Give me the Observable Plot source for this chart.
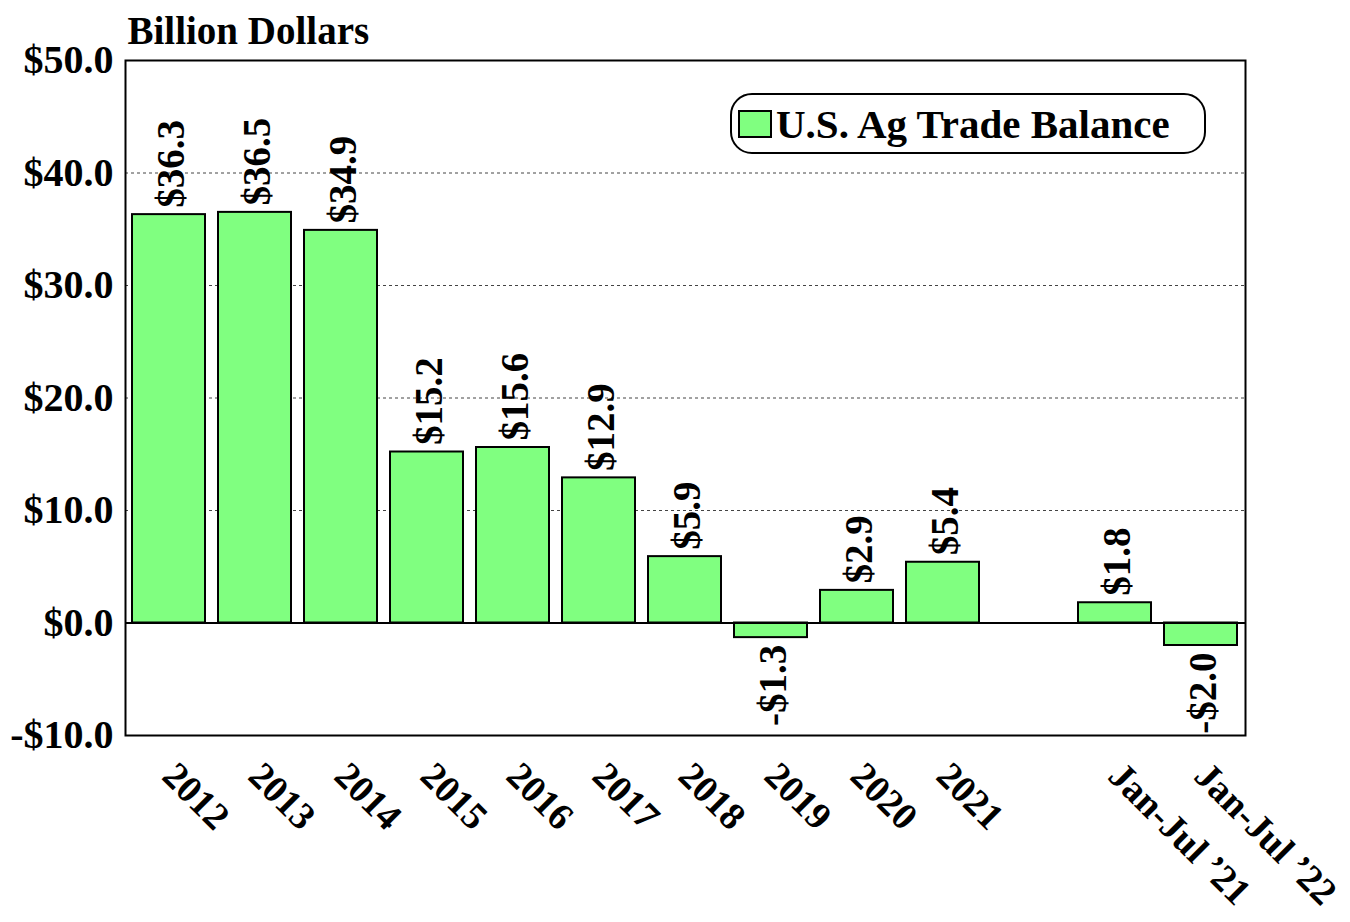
<!DOCTYPE html>
<html>
<head>
<meta charset="utf-8">
<script src="https://cdn.jsdelivr.net/npm/d3@7"></script>
<script src="https://cdn.jsdelivr.net/npm/@observablehq/plot@0.6"></script>
<style>
  html, body { margin: 0; padding: 0; background: #fff; }
  #wrap { position: relative; width: 1350px; height: 922px; font-family: "Liberation Serif", "Times New Roman", serif; }
  #legend {
    position: absolute; left: 730px; top: 93px; width: 472px; height: 57px;
    border: 2px solid #000; border-radius: 22px; background: #fff;
    display: flex; align-items: center; box-sizing: content-box;
    font-weight: bold; font-size: 41px; color: #000; white-space: nowrap;
  }
  #legend .sw { width: 30px; height: 24px; background: #80ff80; border: 2px solid #000; margin-left: 6px; margin-right: 4px; }
</style>
</head>
<body>
<div id="wrap"></div>
<script>
const categories = ["2012","2013","2014","2015","2016","2017","2018","2019","2020","2021"," ","Jan-Jul ’21","Jan-Jul ’22"];
const barCategories = ["2012","2013","2014","2015","2016","2017","2018","2019","2020","2021","Jan-Jul ’21","Jan-Jul ’22"];
const balance = [36.3, 36.5, 34.9, 15.2, 15.6, 12.9, 5.9, -1.3, 2.9, 5.4, 1.8, -2.0];
const yTicks = [-10, 0, 10, 20, 30, 40, 50];
const gridTicks = [10, 20, 30, 40];
const seriesName = "U.S. Ag Trade Balance";
const yTitle = "Billion Dollars";

const data = barCategories.map((c, i) => ({cat: c, value: balance[i]}));
const fmt = v => (v < 0 ? "-$" : "$") + Math.abs(v).toFixed(1);

const plot = Plot.plot({
  width: 1350,
  height: 922,
  marginLeft: 125,
  marginRight: 105,
  marginTop: 60,
  marginBottom: 187,
  style: {fontFamily: "'Liberation Serif', 'Times New Roman', serif", fontSize: "36px", fontWeight: "bold", color: "#000", background: "#fff"},
  x: {domain: categories, paddingInner: 0.15, paddingOuter: 0.08, label: null},
  y: {domain: [-10, 50], label: null},
  marks: [
    Plot.ruleY(gridTicks, {stroke: "#444", strokeWidth: 1, strokeDasharray: "3,3"}),
    Plot.barY(data, {x: "cat", y: "value", fill: "#80ff80", stroke: "#000", strokeWidth: 2}),
    Plot.ruleY([0], {stroke: "#000", strokeWidth: 2}),
    Plot.frame({stroke: "#000", strokeWidth: 2}),
    Plot.text(data.filter(d => d.value >= 0), {x: "cat", y: "value", text: d => fmt(d.value), rotate: -90, textAnchor: "start", dy: -7, dx: 3, fontSize: 39, fontWeight: "bold", fill: "#000"}),
    Plot.text(data.filter(d => d.value < 0), {x: "cat", y: "value", text: d => fmt(d.value), rotate: -90, textAnchor: "end", dy: 7, dx: 3, fontSize: 39, fontWeight: "bold", fill: "#000"}),
    Plot.axisY({ticks: yTicks, tickFormat: fmt, tickSize: 0, tickPadding: 12, fontSize: 40, fontWeight: "bold"}),
    Plot.axisX({tickFormat: d => d.trim(), tickSize: 0, tickPadding: 34, tickRotate: 45, fontSize: 38, fontWeight: "bold"}),
    Plot.text([yTitle], {frameAnchor: "top-left", textAnchor: "start", dy: -44, dx: 2, fontSize: 39, fontWeight: "bold", fill: "#000"})
  ]
});

const wrap = document.getElementById("wrap");
wrap.appendChild(plot);
const leg = document.createElement("div");
leg.id = "legend";
leg.innerHTML = '<div class="sw"></div><span>' + seriesName + '</span>';
wrap.appendChild(leg);
</script>
</body>
</html>
